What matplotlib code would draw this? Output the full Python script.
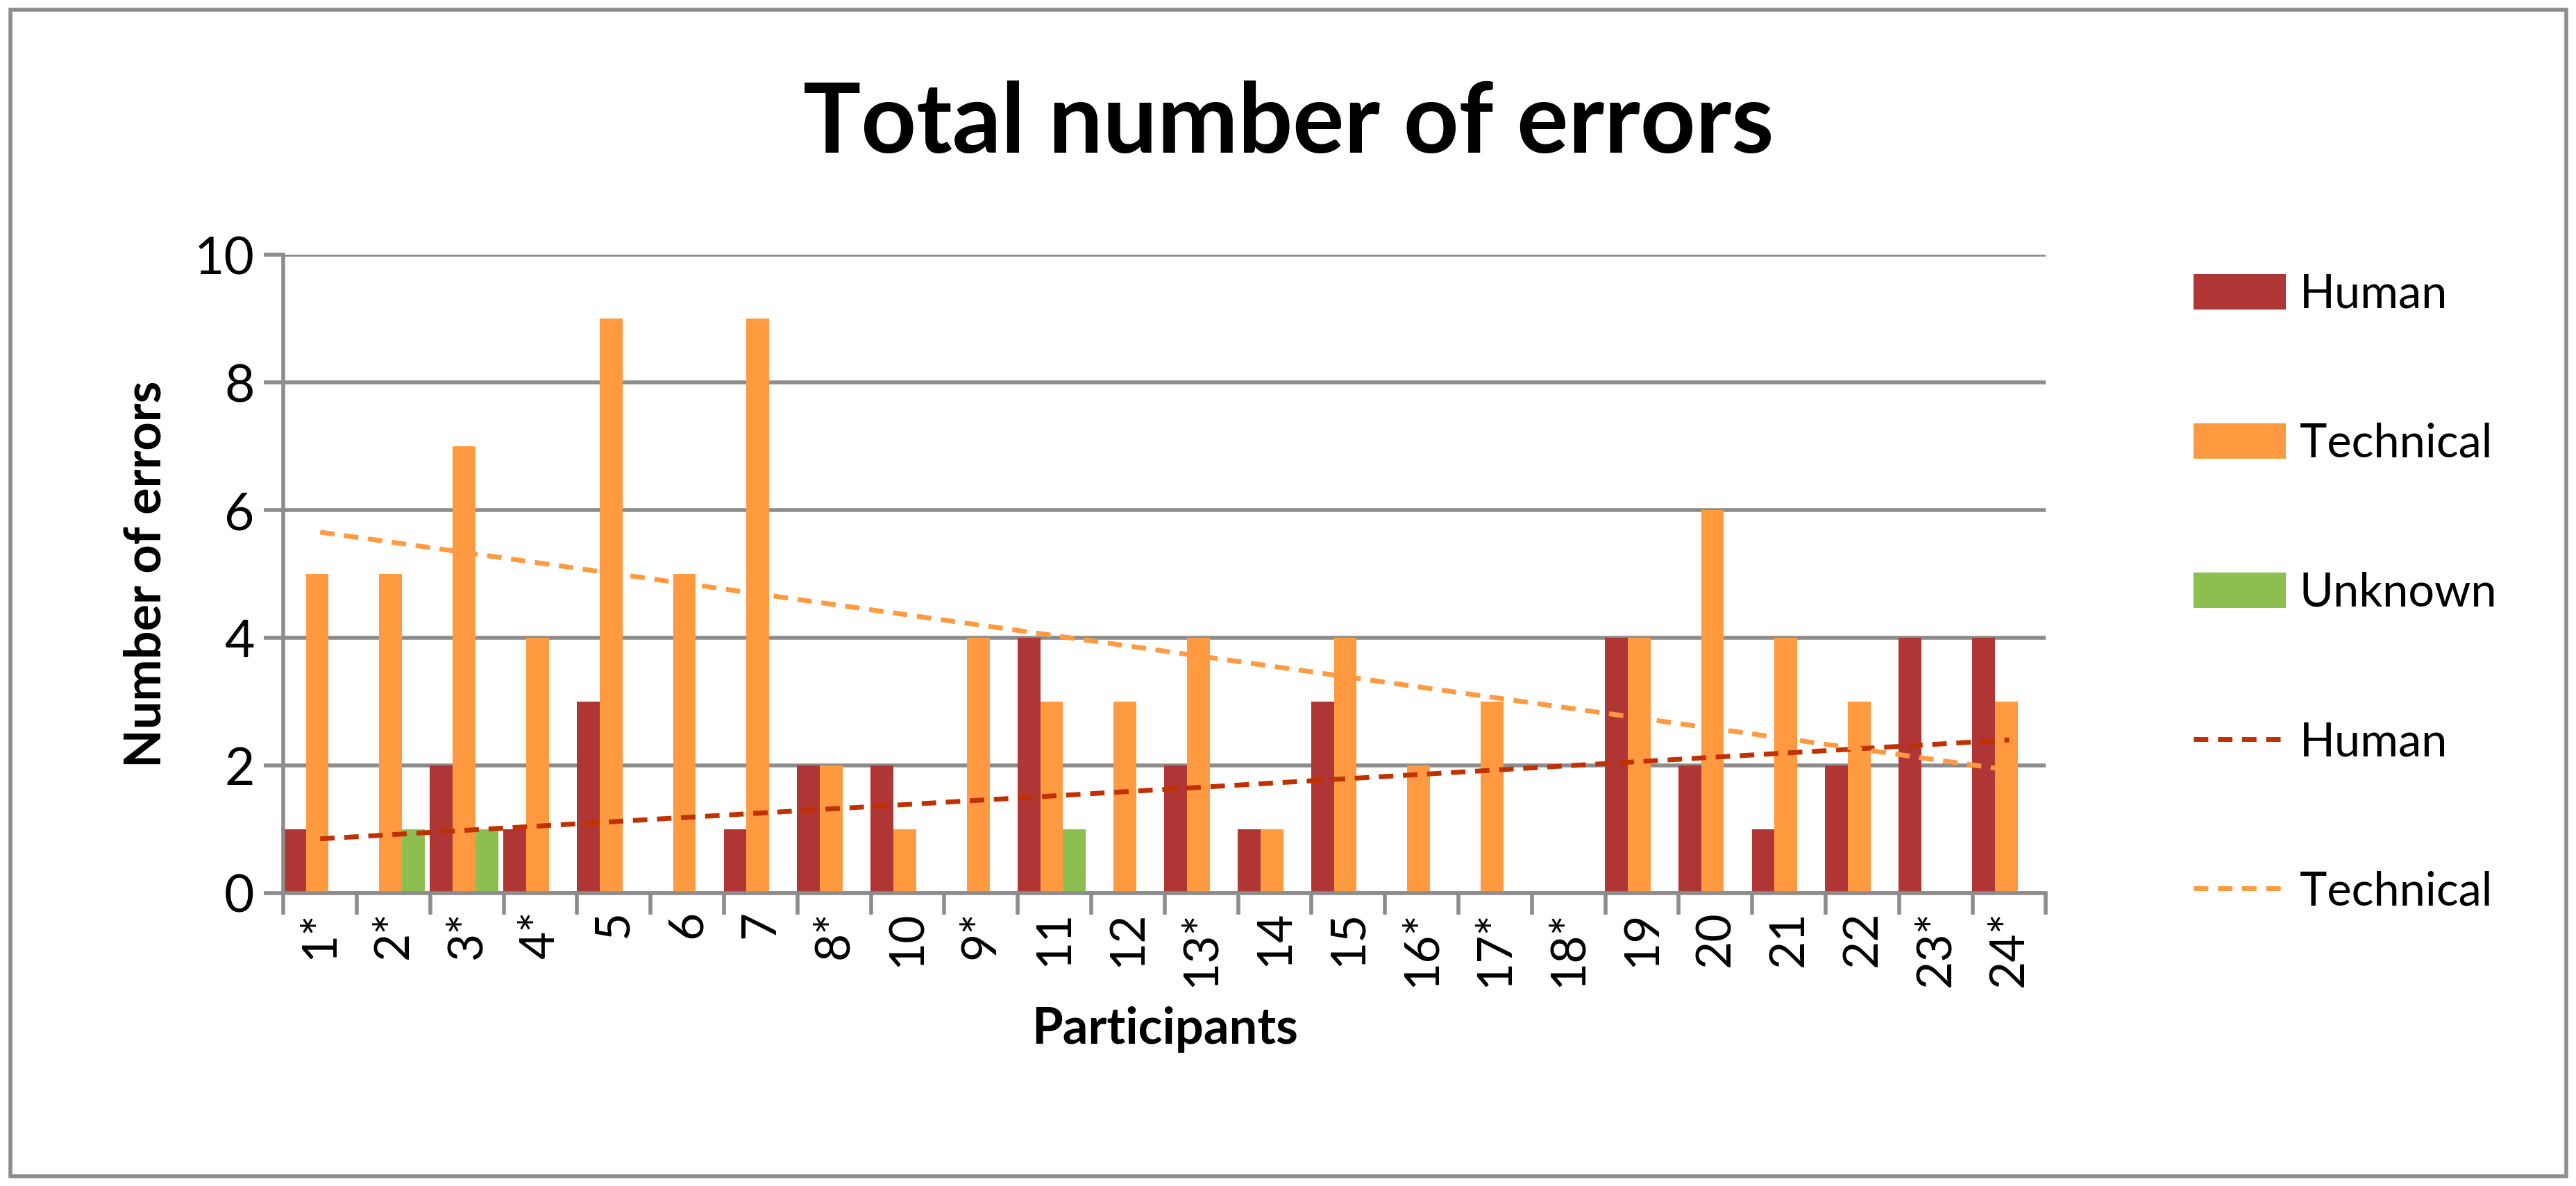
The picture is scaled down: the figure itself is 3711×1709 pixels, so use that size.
import matplotlib
matplotlib.use('Agg')
import matplotlib.pyplot as plt
import numpy as np
from matplotlib.patches import Rectangle

participants = ['1*', '2*', '3*', '4*', '5', '6', '7', '8*', '10', '9*', '11', '12',
                '13*', '14', '15', '16*', '17*', '18*', '19', '20', '21', '22', '23*', '24*']
human = [1, 0, 2, 1, 3, 0, 1, 2, 2, 0, 4, 0, 2, 1, 3, 0, 0, 0, 4, 2, 1, 2, 4, 4]
technical = [5, 5, 7, 4, 9, 5, 9, 2, 1, 4, 3, 3, 4, 1, 4, 2, 3, 0, 4, 6, 4, 3, 0, 3]
unknown = [0, 1, 1, 0, 0, 0, 0, 0, 0, 0, 1, 0, 0, 0, 0, 0, 0, 0, 0, 0, 0, 0, 0, 0]

plt.rcParams['font.family'] = ['Lato', 'DejaVu Sans']
fig = plt.figure(figsize=(37.12, 17.09), dpi=100)
ax = fig.add_axes([0.110, 0.247, 0.684, 0.538])

x = np.arange(len(participants))
w = 0.31
ax.bar(x - w - 0.04, human, w, color='#B03535', label='Human', zorder=3)
ax.bar(x - 0.04, technical, w, color='#FF9A40', label='Technical', zorder=3)
ax.bar(x + w - 0.04, unknown, w, color='#8CBE50', label='Unknown', zorder=3)

t = np.arange(1, len(participants) + 1)
ph = np.polyfit(t, human, 1)
pt = np.polyfit(t, technical, 1)
xs = np.array([x[0], x[-1]])
ax.plot(xs, np.polyval(ph, xs + 1), color='#C03000', lw=5, dashes=(3, 2), label='Human', zorder=4)
ax.plot(xs, np.polyval(pt, xs + 1), color='#FF9A40', lw=5, dashes=(3, 2), label='Technical', zorder=4)

ax.set_xlim(-0.5, len(participants) - 0.5)
ax.set_ylim(0, 10)
ax.set_yticks(range(0, 11, 2))
ax.yaxis.grid(True, color='#8C8C8C', lw=4)
ax.set_axisbelow(True)
for s in ['top', 'right']:
    ax.spines[s].set_visible(False)
for s in ['left', 'bottom']:
    ax.spines[s].set_color('#8C8C8C')
    ax.spines[s].set_linewidth(4)
    ax.spines[s].set_zorder(5)
ax.set_xticks(x)
ax.set_xticklabels(participants, rotation=90)
ax.set_xticks(np.arange(-0.5, len(participants)), minor=True)
ax.tick_params(axis='x', which='major', length=0, pad=18, labelsize=50)
ax.tick_params(axis='x', which='minor', length=22, width=4, color='#8C8C8C')
ax.tick_params(axis='y', length=20, width=4, color='#8C8C8C', labelsize=54, pad=10)
ax.set_xlabel('Participants', fontsize=52, fontweight='bold', labelpad=20)
ax.set_ylabel('Number of errors', fontsize=52, fontweight='bold', labelpad=25)

fig.text(0.50, 0.895, 'Total number of errors', ha='center', va='center',
         fontsize=100, fontweight='bold')

handles, labels = ax.get_legend_handles_labels()
order = [2, 3, 4, 0, 1]
fig.legend([handles[i] for i in order], [labels[i] for i in order],
           loc='upper left', bbox_to_anchor=(0.835, 0.805), frameon=False,
           fontsize=48, labelspacing=2.3, handlelength=2.0, handleheight=0.8,
           handletextpad=0.3)

fig.patches.append(Rectangle((0.004, 0.008), 0.992, 0.984, transform=fig.transFigure,
                             fill=False, edgecolor='#8C8C8C', lw=4))
fig.savefig('out.png', dpi=100)
